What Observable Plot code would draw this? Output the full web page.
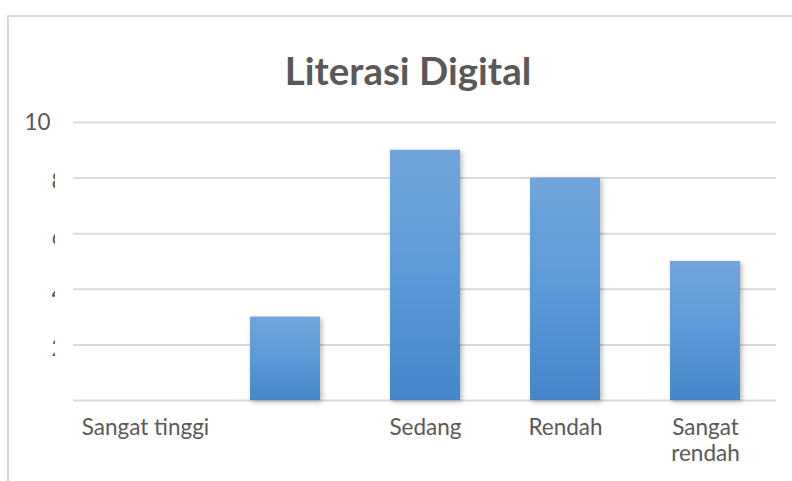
<!DOCTYPE html>
<html>
<head>
<meta charset="utf-8">
<script src="https://cdn.jsdelivr.net/npm/d3@7"></script>
<script src="https://cdn.jsdelivr.net/npm/@observablehq/plot@0.6"></script>
<style>
  html, body { margin: 0; padding: 0; background: #fff; }
  #wrap { position: relative; width: 792px; height: 481px; overflow: hidden; }
  #border { position: absolute; left: 7px; top: 15px; right: -4px; bottom: -4px;
            border-left: 2px solid #d9d9d9; border-top: 2px solid #d9d9d9; }
  #chart { position: absolute; left: 0; top: 0; }
  #chart g[aria-label="bar"] rect { filter: drop-shadow(2px 2px 2.5px rgba(0,0,0,0.28)); }
</style>
</head>
<body>
<div id="wrap"><div id="border"></div><div id="chart"></div></div>
<script>
const title = "Literasi Digital";
const categories = ["Sangat tinggi", "Tinggi", "Sedang", "Rendah", "Sangat rendah"];
const values = [0, 3, 9, 8, 5];
const xTickLabels = ["Sangat tinggi", "", "Sedang", "Rendah", "Sangat\nrendah"];
const yTicks = [0, 2, 4, 6, 8, 10];
const yTickLabels = ["", "2", "4", "6", "8", "10"];

const data = categories.map((c, i) => ({category: c, value: values[i], label: xTickLabels[i]}));
const yFull = yTicks.map((t, i) => ({t, label: yTickLabels[i]})).filter(d => d.label.length > 1);
const yFrag = yTicks.map((t, i) => ({t, label: yTickLabels[i]})).filter(d => d.label.length === 1);

const fragDx = -22;
const defs = () => {
  const g = d3.create("svg:defs");
  const lg = g.append("linearGradient").attr("id", "barGrad").attr("x1", 0).attr("y1", 0).attr("x2", 0).attr("y2", 1);
  lg.append("stop").attr("offset", "0%").attr("stop-color", "#70a5db");
  lg.append("stop").attr("offset", "50%").attr("stop-color", "#5b9ad8");
  lg.append("stop").attr("offset", "100%").attr("stop-color", "#4486c8");
  // clip region in the text group's local coordinates (group is translated by dx)
  g.append("clipPath").attr("id", "fragClip").attr("clipPathUnits", "userSpaceOnUse")
    .append("rect").attr("x", 51.5 - fragDx).attr("y", -50).attr("width", 3).attr("height", 600);
  return g.node();
};

const chart = Plot.plot({
  width: 792,
  height: 481,
  marginLeft: 73,
  marginRight: 16,
  marginTop: 122,
  marginBottom: 81,
  style: {fontFamily: "Lato, 'Open Sans', sans-serif", color: "#595959", background: "transparent"},
  x: {domain: categories, paddingInner: 0.5, paddingOuter: 0.25, axis: null},
  y: {domain: [0, 10], axis: null},
  marks: [
    defs,
    Plot.ruleY(yTicks, {stroke: "#d9d9d9", strokeWidth: 2}),
    Plot.barY(data, {x: "category", y: "value", fill: "url(#barGrad)"}),
    Plot.text(data, {x: "category", text: "label", frameAnchor: "bottom", lineAnchor: "top",
      dy: 17, fontSize: 22.5, lineHeight: 1.12, fill: "#595959"}),
    Plot.text(yFull, {y: "t", text: "label", frameAnchor: "left", textAnchor: "end",
      dx: -23, fontSize: 22.5, fill: "#595959"}),
    Plot.text(yFrag, {y: "t", text: "label", frameAnchor: "left", textAnchor: "start",
      dx: fragDx, dy: 4, fontSize: 22.5, fill: "#595959", ariaDescription: "yfrag"}),
    Plot.text([title], {frameAnchor: "top", text: d => d, dx: -17, dy: -50, lineAnchor: "middle",
      fontSize: 38.5, fontWeight: "bold", fill: "#595959"})
  ]
});

d3.select(chart).selectAll('g[aria-description="yfrag"]').attr("clip-path", "url(#fragClip)");
document.getElementById("chart").appendChild(chart);
</script>
</body>
</html>
